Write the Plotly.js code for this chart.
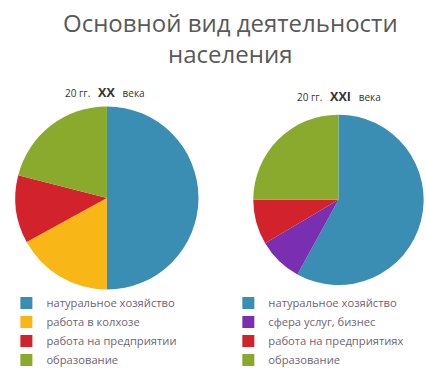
<!DOCTYPE html>
<html>
<head>
<meta charset="utf-8">
<script src="https://cdn.plot.ly/plotly-3.0.1.min.js"></script>
<style>html,body{margin:0;padding:0;background:#fff;}</style>
</head>
<body>
<div id="chart" style="width:426px;height:368px;"></div>
<script>
const labelsXX = ["натуральное хозяйство", "работа в колхозе", "работа на предприятии", "образование"];
const valuesXX = [50, 17, 12, 21];
const colorsXX = ["#3a8db3", "#f8b716", "#d2232d", "#89aa2c"];

const labelsXXI = ["натуральное хозяйство", "сфера услуг, бизнес", "работа на предприятиях", "образование"];
const valuesXXI = [58, 8.5, 8.5, 25];
const colorsXXI = ["#3a8db3", "#7a2fb0", "#d2232d", "#89aa2c"];

const titleText = "Основной вид деятельности<br>населения";
const subXX = "20 гг.&nbsp;&nbsp;&nbsp;<b><span style='font-size:12.5px'>XX</span></b>&nbsp;&nbsp;&nbsp;века";
const subXXI = "20 гг.&nbsp;&nbsp;&nbsp;<b><span style='font-size:12.5px'>XXI</span></b>&nbsp;&nbsp;&nbsp;века";

// zero-width space keeps the second legend's entries separate from the first
const labelsXXIkeys = labelsXXI.map(s => s + "\u200b");

const data = [
  {
    type: "pie", labels: labelsXX, values: valuesXX, sort: false, direction: "clockwise",
    rotation: 0, textinfo: "none", hoverinfo: "label+percent",
    marker: {colors: colorsXX, line: {width: 0}},
    domain: {x: [0.036, 0.466], y: [0.212, 0.712]},
    legend: "legend"
  },
  {
    type: "pie", labels: labelsXXIkeys, values: valuesXXI, sort: false, direction: "clockwise",
    rotation: 0, textinfo: "none", hoverinfo: "label+percent",
    marker: {colors: colorsXXI, line: {width: 0}},
    domain: {x: [0.594, 0.995], y: [0.2255, 0.6885]},
    legend: "legend2"
  }
];

const legendFont = {family: "Open Sans, sans-serif", size: 11.2, color: "#6f6478"};
const layout = {
  width: 426, height: 368,
  margin: {l: 0, r: 0, t: 0, b: 0, autoexpand: false},
  paper_bgcolor: "#ffffff",
  showlegend: true,
  legend: {x: 0.015, xanchor: "left", y: 0.216, yanchor: "top", font: legendFont, itemwidth: 30, bgcolor: "rgba(0,0,0,0)"},
  legend2: {x: 0.536, xanchor: "left", y: 0.216, yanchor: "top", font: legendFont, itemwidth: 30, bgcolor: "rgba(0,0,0,0)"},
  annotations: [
    {text: titleText, x: 0.542, y: 0.99, xref: "paper", yref: "paper", xanchor: "center", yanchor: "top",
     showarrow: false, font: {family: "Open Sans, sans-serif", size: 24, color: "#595959"}},
    {text: subXX, x: 0.246, y: 0.75, xref: "paper", yref: "paper", xanchor: "center", yanchor: "middle",
     showarrow: false, font: {family: "Open Sans, sans-serif", size: 10, color: "#333"}},
    {text: subXXI, x: 0.796, y: 0.737, xref: "paper", yref: "paper", xanchor: "center", yanchor: "middle",
     showarrow: false, font: {family: "Open Sans, sans-serif", size: 10, color: "#333"}}
  ]
};

Plotly.newPlot("chart", data, layout, {displayModeBar: false, staticPlot: true});
</script>
</body>
</html>
